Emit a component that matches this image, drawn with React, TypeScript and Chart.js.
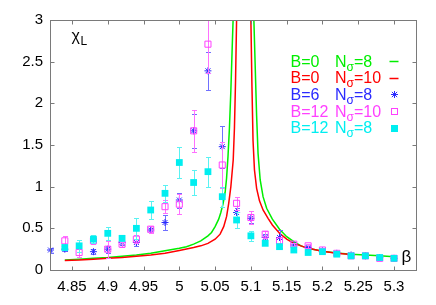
import React, { useEffect, useRef } from 'react';
import { Chart, registerables } from 'chart.js';

Chart.register(...registerables);

// ---------- data ----------
const X_TICKS = [4.85, 4.9, 4.95, 5, 5.05, 5.1, 5.15, 5.2, 5.25, 5.3];
const Y_TICKS = [0, 0.5, 1, 1.5, 2, 2.5, 3];

// B=0 N_sigma=8 (green curve)
const GREEN_BETA = [4.84, 4.86, 4.88, 4.90, 4.92, 4.94, 4.96, 4.98, 5.00, 5.01, 5.02, 5.03, 5.04, 5.045, 5.05, 5.055, 5.058, 5.061, 5.064, 5.066, 5.068, 5.070, 5.072, 5.074, 5.0755, 5.078, 5.1015, 5.104, 5.106, 5.108, 5.110, 5.113, 5.117, 5.122, 5.13, 5.14, 5.15, 5.16, 5.17, 5.18, 5.20, 5.22, 5.24, 5.26, 5.28, 5.30];
const GREEN_CHI = [0.12, 0.13, 0.14, 0.15, 0.165, 0.18, 0.20, 0.23, 0.26, 0.28, 0.31, 0.35, 0.41, 0.45, 0.52, 0.61, 0.69, 0.79, 0.93, 1.10, 1.36, 1.70, 2.15, 2.70, 3.1, 4.0, 4.0, 3.05, 2.45, 1.85, 1.40, 1.08, 0.88, 0.74, 0.61, 0.49, 0.40, 0.34, 0.29, 0.26, 0.225, 0.205, 0.19, 0.18, 0.17, 0.16];

// B=0 N_sigma=10 (red curve)
const RED_BETA = [4.84, 4.86, 4.88, 4.90, 4.92, 4.94, 4.96, 4.98, 5.00, 5.02, 5.03, 5.04, 5.05, 5.057, 5.062, 5.066, 5.069, 5.072, 5.0753, 5.077, 5.0785, 5.080, 5.081, 5.099, 5.100, 5.1015, 5.103, 5.105, 5.108, 5.112, 5.117, 5.124, 5.13, 5.14, 5.15, 5.16, 5.18, 5.20, 5.22, 5.24];
const RED_CHI = [0.115, 0.12, 0.13, 0.14, 0.15, 0.165, 0.18, 0.20, 0.235, 0.27, 0.29, 0.32, 0.37, 0.43, 0.52, 0.64, 0.80, 1.00, 1.32, 1.70, 2.25, 3.0, 3.6, 3.6, 3.0, 2.2, 1.55, 1.20, 0.98, 0.83, 0.72, 0.62, 0.54, 0.44, 0.37, 0.32, 0.26, 0.225, 0.20, 0.185];

// B=6 N_sigma=8 (blue stars)
const B6_BETA = [4.82, 4.84, 4.88, 4.90, 4.92, 4.94, 4.96, 4.98, 5.00, 5.02, 5.04, 5.06, 5.08, 5.10, 5.12, 5.14, 5.16, 5.18, 5.20, 5.22, 5.24, 5.26, 5.28, 5.30];
const B6_CHI = [0.24, 0.25, 0.22, 0.25, 0.33, 0.33, 0.48, 0.57, 0.84, 1.67, 2.39, 1.48, 0.69, 0.62, 0.39, 0.39, 0.30, 0.27, 0.23, 0.20, 0.18, 0.17, 0.15, 0.14];
const B6_ERR = [0.03, 0.02, 0.03, 0.04, 0.03, 0.04, 0.03, 0.09, 0.09, 0.2, 0.23, 0.25, 0.06, 0.05, 0.04, 0.09, 0.03, 0.02, 0.02, 0.02, 0.02, 0.02, 0.02, 0.02];

// B=12 N_sigma=10 (magenta open squares)
const B12N10_BETA = [4.84, 4.86, 4.88, 4.90, 4.92, 4.94, 4.96, 4.98, 5.00, 5.02, 5.04, 5.06, 5.08, 5.10, 5.12, 5.14, 5.16, 5.18, 5.20, 5.22, 5.24, 5.26, 5.28, 5.30];
const B12N10_CHI = [0.35, 0.21, 0.35, 0.25, 0.31, 0.37, 0.49, 0.76, 0.79, 1.67, 2.71, 1.26, 0.80, 0.63, 0.43, 0.35, 0.31, 0.29, 0.24, 0.20, 0.17, 0.17, 0.14, 0.14];
const B12N10_ERR = [0.06, 0.05, 0.04, 0.10, 0.03, 0.05, 0.04, 0.08, 0.12, 0.25, 0.35, 0.28, 0.08, 0.08, 0.04, 0.05, 0.02, 0.02, 0.02, 0.02, 0.02, 0.02, 0.02, 0.02];

// B=12 N_sigma=8 (cyan filled squares)
const B12N8_BETA = [4.84, 4.86, 4.88, 4.90, 4.92, 4.94, 4.96, 4.98, 5.00, 5.02, 5.04, 5.06, 5.08, 5.10, 5.12, 5.14, 5.16, 5.18, 5.20, 5.22, 5.24, 5.26, 5.28, 5.30];
const B12N8_CHI = [0.27, 0.29, 0.37, 0.44, 0.38, 0.50, 0.72, 0.92, 1.29, 1.05, 1.18, 0.88, 0.60, 0.41, 0.32, 0.28, 0.24, 0.21, 0.22, 0.19, 0.17, 0.17, 0.15, 0.14];
const B12N8_ERR = [0.03, 0.07, 0.05, 0.08, 0.03, 0.13, 0.11, 0.10, 0.19, 0.15, 0.18, 0.12, 0.10, 0.06, 0.02, 0.02, 0.02, 0.02, 0.02, 0.02, 0.02, 0.02, 0.02, 0.02];

const LEGEND_B = ['B=0', 'B=0', 'B=6', 'B=12', 'B=12'];
const LEGEND_N = ['=8', '=10', '=8', '=10', '=8'];
const Y_TITLE_MAIN = 'χ';
const Y_TITLE_SUB = 'L';
const X_TITLE = 'β';

// ---------- styles ----------
const GREEN = '#00ee00';
const RED = '#ff0000';
const BLUE = '#2a2aff';
const MAGENTA = '#ff40ff';
const CYAN = '#00eef0';
const FONT = "'Liberation Sans', Arial, sans-serif";
const FRAME = '#7a7a7a';

const pts = (xs: number[], ys: number[]) => xs.map((x, i) => ({ x, y: ys[i] }));

function drawStar(ctx: CanvasRenderingContext2D, x: number, y: number, r: number) {
  ctx.beginPath();
  ctx.moveTo(x - r, y); ctx.lineTo(x + r, y);
  ctx.moveTo(x, y - r); ctx.lineTo(x, y + r);
  const d = r * 0.75;
  ctx.moveTo(x - d, y - d); ctx.lineTo(x + d, y + d);
  ctx.moveTo(x - d, y + d); ctx.lineTo(x + d, y - d);
  ctx.stroke();
}

const decor = {
  id: 'decor',
  beforeDatasetDraw(chart: any, args: any) {
    const ds = chart.data.datasets[args.index];
    if (!ds.errors) return;
    const { ctx, chartArea: a } = chart;
    const xs = chart.scales.x;
    const ys = chart.scales.y;
    ctx.save();
    ctx.beginPath();
    ctx.rect(a.left, a.top, a.right - a.left, a.bottom - a.top);
    ctx.clip();
    ctx.strokeStyle = ds.errorColor;
    ctx.lineWidth = 1;
    ds.data.forEach((p: any, i: number) => {
      const e = ds.errors[i];
      const x = Math.round(xs.getPixelForValue(p.x)) + 0.5;
      const y1 = Math.round(ys.getPixelForValue(p.y - e)) + 0.5;
      const y2 = Math.round(ys.getPixelForValue(p.y + e)) + 0.5;
      ctx.beginPath();
      ctx.moveTo(x, y1); ctx.lineTo(x, y2);
      ctx.moveTo(x - 2.5, y1); ctx.lineTo(x + 2.5, y1);
      ctx.moveTo(x - 2.5, y2); ctx.lineTo(x + 2.5, y2);
      ctx.stroke();
    });
    ctx.restore();
  },
  afterDraw(chart: any) {
    const { ctx, chartArea: a } = chart;
    const xs = chart.scales.x;
    const ys = chart.scales.y;
    ctx.save();
    // frame
    ctx.strokeStyle = FRAME;
    ctx.lineWidth = 1;
    const L = a.left + 0.5, R = Math.round(a.right) + 0.5, T = a.top + 0.5, B = Math.round(a.bottom) + 0.5;
    ctx.strokeRect(L, T, R - L, B - T);
    // inward ticks
    ctx.beginPath();
    X_TICKS.forEach((v) => {
      const x = Math.round(xs.getPixelForValue(v)) + 0.5;
      ctx.moveTo(x, B); ctx.lineTo(x, B - 4);
      ctx.moveTo(x, T); ctx.lineTo(x, T + 4);
    });
    Y_TICKS.forEach((v) => {
      const y = Math.round(ys.getPixelForValue(v)) + 0.5;
      ctx.moveTo(L, y); ctx.lineTo(L + 4, y);
      ctx.moveTo(R, y); ctx.lineTo(R - 4, y);
    });
    ctx.stroke();

    // axis titles
    ctx.fillStyle = '#000';
    ctx.textBaseline = 'alphabetic';
    ctx.textAlign = 'left';
    ctx.font = `16px ${FONT}`;
    const tx = a.left + 21.5;
    const ty = a.top + 21;
    ctx.fillText(Y_TITLE_MAIN, tx, ty);
    const cw = ctx.measureText(Y_TITLE_MAIN).width;
    ctx.font = `12px ${FONT}`;
    ctx.fillText(Y_TITLE_SUB, tx + cw + 0.5, ty + 4);
    ctx.font = `17px ${FONT}`;
    ctx.fillText(X_TITLE, a.right - 14.5, a.bottom - 8.5);

    // legend
    const colors = [GREEN, RED, BLUE, MAGENTA, CYAN];
    const lx = a.left + 240.5;
    const nx = a.left + 285;
    const sx = a.left + 344;
    for (let i = 0; i < LEGEND_B.length; i++) {
      const base = a.top + 46.5 + i * 16.7;
      ctx.fillStyle = colors[i];
      ctx.font = `16px ${FONT}`;
      ctx.fillText(LEGEND_B[i], lx, base);
      ctx.fillText('N', nx, base);
      const nw = ctx.measureText('N').width;
      ctx.font = `12px ${FONT}`;
      ctx.fillText('σ', nx + nw, base + 4);
      const sw = ctx.measureText('σ').width;
      ctx.font = `16px ${FONT}`;
      ctx.fillText(LEGEND_N[i], nx + nw + sw, base);
      const cy = Math.round(base - 5.5) + 0.5;
      ctx.lineWidth = 1;
      if (i === 0 || i === 1) {
        ctx.strokeStyle = colors[i];
        ctx.lineWidth = 1.5;
        ctx.beginPath();
        ctx.moveTo(sx - 4.5, cy); ctx.lineTo(sx + 4.5, cy);
        ctx.stroke();
      } else if (i === 2) {
        ctx.strokeStyle = BLUE;
        drawStar(ctx, Math.round(sx) + 0.5, cy, 3.5);
      } else if (i === 3) {
        ctx.strokeStyle = MAGENTA;
        ctx.strokeRect(Math.round(sx) - 2.5, cy - 3, 6, 6);
      } else {
        ctx.fillStyle = CYAN;
        ctx.fillRect(Math.round(sx) - 3, cy - 3.5, 7, 7);
      }
    }
    ctx.restore();
  },
};

export default function App() {
  const ref = useRef<HTMLCanvasElement | null>(null);
  useEffect(() => {
    if (!ref.current) return;
    const chart = new Chart(ref.current, {
      type: 'line',
      data: {
        datasets: [
          {
            label: 'B=12 Nσ=8',
            data: pts(B12N8_BETA, B12N8_CHI),
            showLine: false,
            pointStyle: 'rect',
            pointRadius: 4.8,
            pointBackgroundColor: CYAN,
            pointBorderColor: CYAN,
            pointBorderWidth: 0,
            errors: B12N8_ERR,
            errorColor: '#5af2f2',
            clip: false,
            order: 1,
          } as any,
          {
            label: 'B=12 Nσ=10',
            data: pts(B12N10_BETA, B12N10_CHI),
            showLine: false,
            pointStyle: 'rect',
            pointRadius: 4.3,
            pointBackgroundColor: 'rgba(0,0,0,0)',
            pointBorderColor: MAGENTA,
            pointBorderWidth: 1,
            errors: B12N10_ERR,
            errorColor: '#ff70ff',
            clip: false,
            order: 2,
          } as any,
          {
            label: 'B=6 Nσ=8',
            data: pts(B6_BETA, B6_CHI),
            showLine: false,
            pointStyle: 'star',
            pointRadius: 3.5,
            pointBorderColor: BLUE,
            pointBackgroundColor: BLUE,
            pointBorderWidth: 1,
            errors: B6_ERR,
            errorColor: '#7070ff',
            clip: false,
            order: 3,
          } as any,
          {
            label: 'B=0 Nσ=10',
            data: pts(RED_BETA, RED_CHI),
            borderColor: RED,
            borderWidth: 1.5,
            pointRadius: 0,
            tension: 0,
            fill: false,
            order: 4,
          },
          {
            label: 'B=0 Nσ=8',
            data: pts(GREEN_BETA, GREEN_CHI),
            borderColor: GREEN,
            borderWidth: 1.5,
            pointRadius: 0,
            tension: 0,
            fill: false,
            order: 5,
          },
        ],
      },
      options: {
        animation: false,
        responsive: false,
        maintainAspectRatio: false,
        devicePixelRatio: 1,
        events: [],
        layout: { padding: { top: 20, right: 20, left: 0, bottom: 0 } },
        plugins: { legend: { display: false }, tooltip: { enabled: false } },
        scales: {
          x: {
            type: 'linear',
            min: 4.8193,
            max: 5.3307,
            grid: { display: false, drawTicks: false },
            border: { display: false },
            afterBuildTicks: (s: any) => { s.ticks = X_TICKS.map((v) => ({ value: v })); },
            afterFit: (s: any) => { s.height = 35; },
            ticks: {
              autoSkip: false,
              maxRotation: 0,
              padding: 8,
              color: '#000',
              font: { family: FONT, size: 15 },
              callback: (v: any) => String(Math.round(Number(v) * 100) / 100),
            },
          },
          y: {
            type: 'linear',
            min: 0,
            max: 3,
            grid: { display: false, drawTicks: false },
            border: { display: false },
            afterBuildTicks: (s: any) => { s.ticks = Y_TICKS.map((v) => ({ value: v })); },
            afterFit: (s: any) => { s.width = 50; },
            ticks: {
              autoSkip: false,
              padding: 7,
              color: '#000',
              font: { family: FONT, size: 15 },
              callback: (v: any) => String(v),
            },
          },
        },
      } as any,
      plugins: [decor],
    });
    return () => chart.destroy();
  }, []);
  return (
    <div style={{ position: 'absolute', left: 0, top: 0, width: 436, height: 305, background: '#fff' }}>
      <canvas ref={ref} width={436} height={305} style={{ display: 'block' }} />
    </div>
  );
}
